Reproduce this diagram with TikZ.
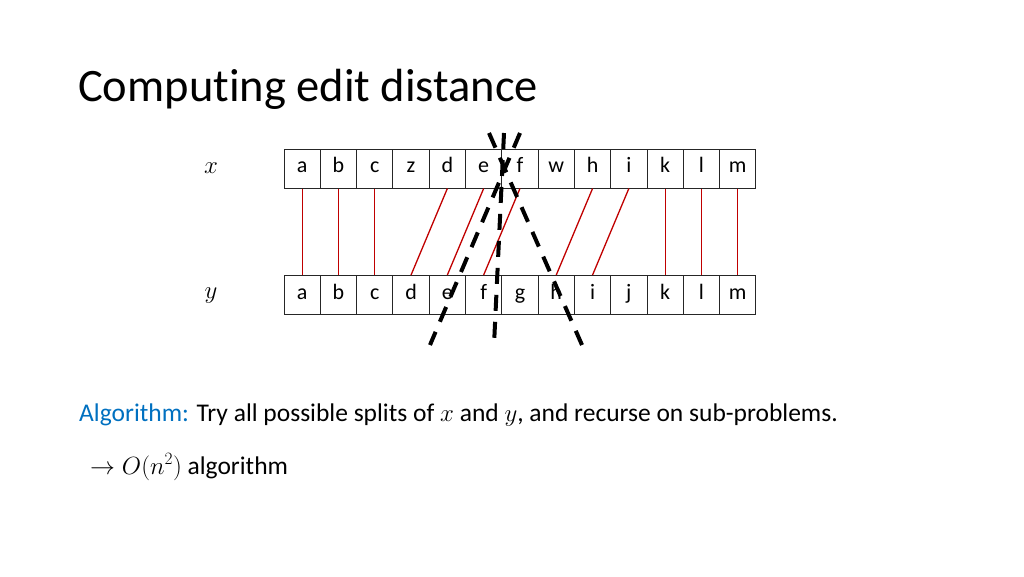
\documentclass[tikz,border=0pt]{standalone}
\usepackage{fontspec}
\setmainfont{Carlito}[Ligatures=NoCommon]
\definecolor{algblue}{RGB}{0,112,192}
\definecolor{linkred}{RGB}{192,0,0}
\begin{document}
\begin{tikzpicture}[x=1pt,y=-1pt,
  cell/.style={draw=black!85,line width=1pt,fill=white,minimum width=36.3pt,minimum height=39pt,inner sep=0pt,
    text height=1em,text depth=0.15em,font=\fontsize{22}{26}\selectfont},
  link/.style={draw=linkred,line width=1.3pt},
  split/.style={draw=black,line width=4pt,dash pattern=on 16pt off 11pt},
  lbl/.style={font=\fontsize{25}{30}\selectfont},
  body/.style={anchor=base west,inner sep=0pt,font=\fontsize{25.5}{30}\selectfont}]
\useasboundingbox (0,0) rectangle (1024,576);
\node[anchor=base west,inner sep=0pt,font=\fontsize{46.5}{54}\selectfont] (title) at (78,101) {Computing edit distance};
\node[lbl] (xl) at (211,168) {$x$};
\node[lbl] (yl) at (211,296) {$y$};
\foreach \l [count=\i from 0] in {a,b,c,z,d,e,f,w,h,i,k,l,m}
  \node[cell] (t\i) at ({302.15+36.3*\i},168.5) {\l};
\foreach \l [count=\i from 0] in {a,b,c,d,e,f,g,h,i,j,k,l,m}
  \node[cell] (b\i) at ({302.15+36.3*\i},295) {\l};
\foreach \a/\b in {0/0,1/1,2/2,4/3,5/4,6/5,8/7,9/8,10/10,11/11,12/12}
  \draw[link] (t\a.south) -- (b\b.north);
\coordinate (s1a) at (489,133);
\coordinate (s1b) at (582,345);
\coordinate (s2a) at (520,133);
\coordinate (s2b) at (430,345);
\coordinate (s3a) at (504,133);
\coordinate (s3b) at (494,345);
\draw[split] (s1a) -- (s1b);
\draw[split] (s2a) -- (s2b);
\draw[split] (s3a) -- (s3b);
\node[body] (alg) at (79,421) {\textcolor{algblue}{Algorithm:} Try all possible splits of $x$ and $y$, and recurse on sub-problems.};
\node[body] (res) at (90,474) {$\rightarrow O(n^2)$ algorithm};
\end{tikzpicture}
\end{document}
